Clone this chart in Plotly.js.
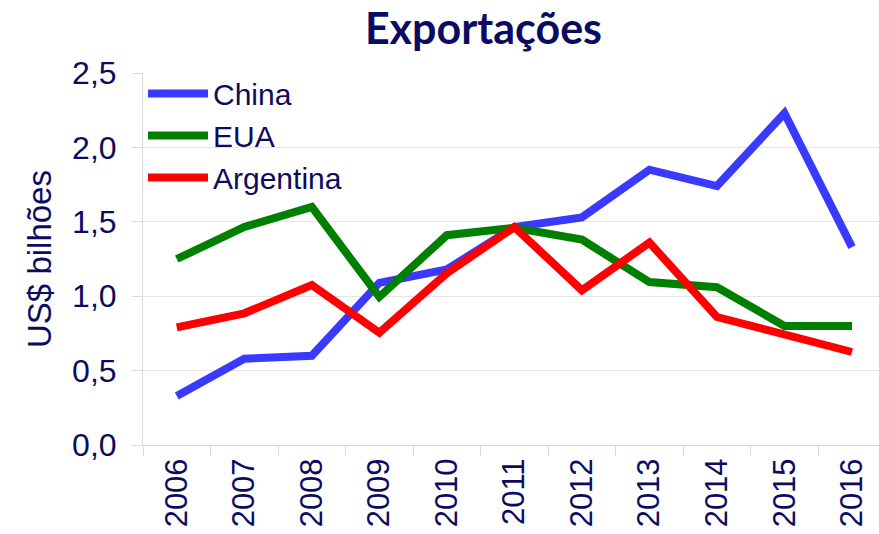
<!DOCTYPE html>
<html>
<head>
<meta charset="utf-8">
<script src="https://cdn.plot.ly/plotly-3.0.1.min.js"></script>
<style>html,body{margin:0;padding:0;background:#fff;}#chart{width:879px;height:534px;}</style>
</head>
<body>
<div id="chart"></div>
<script>
const years = ["2006","2007","2008","2009","2010","2011","2012","2013","2014","2015","2016"];
const china = [0.33, 0.58, 0.60, 1.09, 1.18, 1.465, 1.53, 1.85, 1.74, 2.23, 1.33];
const eua = [1.25, 1.465, 1.60, 0.995, 1.41, 1.46, 1.38, 1.095, 1.06, 0.80, 0.80];
const argentina = [0.79, 0.885, 1.075, 0.755, 1.155, 1.465, 1.04, 1.36, 0.86, 0.74, 0.625];

const navy = "#0b0b62";
function tr(name, y, color) {
  return {x: years, y: y, name: name, type: "scatter", mode: "lines",
    line: {color: color, width: 8, shape: "linear"}};
}
const data = [
  tr("China", china, "#3a3aff"),
  tr("EUA", eua, "#008000"),
  tr("Argentina", argentina, "#ff0000")
];
const layout = {
  width: 879, height: 534,
  margin: {l: 143, r: 0, t: 73, b: 89},
  paper_bgcolor: "#fff", plot_bgcolor: "#fff",
  separators: ",.",
  showlegend: true,
  title: {text: "Exportações", x: 0.55, xanchor: "center", y: 0.945, yanchor: "middle",
    font: {family: "Lato, 'Open Sans', sans-serif", size: 43, color: navy, weight: "bold"}},
  font: {family: "Liberation Sans, Arial, sans-serif", color: navy},
  legend: {x: 0.0, y: 1.015, xanchor: "left", yanchor: "top", bgcolor: "rgba(0,0,0,0)",
    font: {size: 30, color: navy}, tracegroupgap: 0, itemwidth: 60},
  xaxis: {type: "category", range: [-0.5, 10.4], tickangle: -90,
    showgrid: false, showline: true, linecolor: "#d9d9d9", linewidth: 1,
    ticks: "outside", tickson: "boundaries", ticklen: 10, tickcolor: "#d9d9d9",
    tickfont: {size: 31, color: navy}, zeroline: false},
  yaxis: {range: [0, 2.5], dtick: 0.5, tickformat: ".1f",
    showgrid: true, gridcolor: "#e6e6e6", gridwidth: 1,
    showline: true, linecolor: "#d9d9d9", linewidth: 1,
    ticks: "outside", ticklen: 10, tickcolor: "#d9d9d9", ticklabelstandoff: 9,
    tickfont: {size: 32, color: navy}, zeroline: false,
    title: {text: "US$ bilhões", font: {size: 33, color: navy}, standoff: 10}}
};
Plotly.newPlot("chart", data, layout, {displayModeBar: false, staticPlot: true});
</script>
</body>
</html>
